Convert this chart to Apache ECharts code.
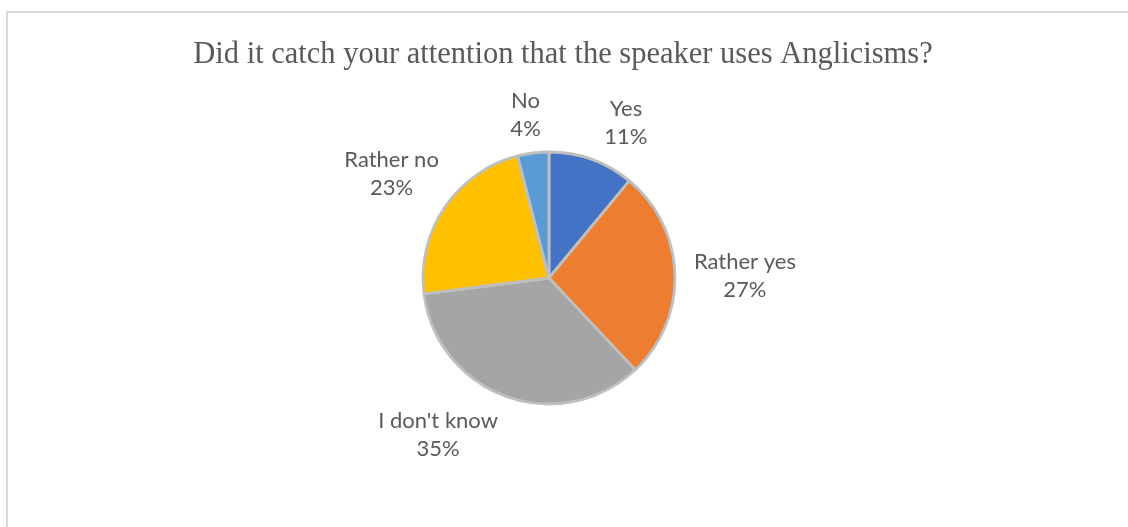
<!DOCTYPE html>
<html>
<head>
<meta charset="utf-8">
<title>Anglicisms survey</title>
<script src="https://cdn.jsdelivr.net/npm/echarts@6/dist/echarts.min.js"></script>
<style>
  html, body { margin: 0; padding: 0; background: #ffffff; }
  #chart { width: 1128px; height: 527px; }
</style>
</head>
<body>
<div id="chart"></div>
<script>
// Survey answers and their shares (percent)
const categories = ['Yes', 'Rather yes', "I don't know", 'Rather no', 'No'];
const shares = [11, 27, 35, 23, 4];
const colors = ['#4472C4', '#ED7D31', '#A5A5A5', '#FFC000', '#5B9BD5'];
const chartTitle = 'Did it catch your attention that the speaker uses Anglicisms?';

// Pie geometry
const CX = 549, CY = 278, R = 126;
const LABEL_RADIUS = R + 45;
// Per-label fine adjustment [dx, dy] away from the slice bisector point
const labelNudge = [[19, 6], [25, 3], [-53, -4], [-16, -8], [-2, 7]];

const total = shares.reduce((a, b) => a + b, 0);
function midAngle(i) {
  let before = 0;
  for (let k = 0; k < i; k++) before += shares[k];
  const mid = (before + shares[i] / 2) / total;
  return (90 - mid * 360) * Math.PI / 180;
}

const chart = echarts.init(document.getElementById('chart'), null, { renderer: 'canvas' });

chart.setOption({
  backgroundColor: '#ffffff',
  animation: false,
  title: {
    text: chartTitle,
    left: 558,
    top: 34,
    textAlign: 'center',
    textStyle: {
      fontFamily: '"Liberation Serif", "Times New Roman", serif',
      fontSize: 30.5,
      fontWeight: 'normal',
      color: '#595959'
    }
  },
  graphic: [{
    type: 'rect',
    shape: { x: 7, y: 12, width: 1200, height: 600 },
    style: { fill: 'none', stroke: '#d9d9d9', lineWidth: 2 },
    silent: true
  }],
  series: [{
    type: 'pie',
    center: [CX, CY],
    radius: R,
    startAngle: 90,
    clockwise: true,
    itemStyle: { borderColor: '#bfbfbf', borderWidth: 2.8 },
    label: {
      show: true,
      position: 'outside',
      formatter: p => p.name + '\n' + p.value + '%',
      fontFamily: 'Lato, "Open Sans", sans-serif',
      fontSize: 22,
      lineHeight: 28,
      color: '#595959',
      align: 'center'
    },
    labelLine: { show: false },
    emphasis: { disabled: true },
    labelLayout: function (p) {
      const i = p.dataIndex;
      const a = midAngle(i);
      return {
        x: CX + LABEL_RADIUS * Math.cos(a) + labelNudge[i][0],
        y: CY - LABEL_RADIUS * Math.sin(a) + labelNudge[i][1],
        align: 'center',
        verticalAlign: 'middle'
      };
    },
    data: categories.map((name, i) => ({
      name: name,
      value: shares[i],
      itemStyle: { color: colors[i] }
    }))
  }]
});
</script>
</body>
</html>
